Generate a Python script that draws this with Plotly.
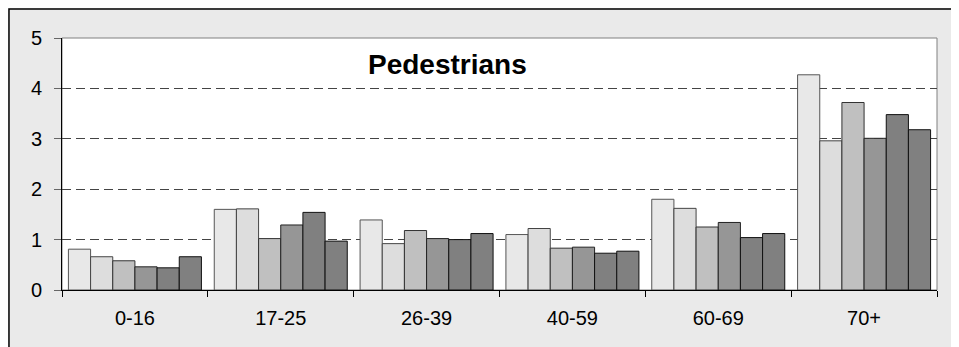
import plotly.graph_objects as go

categories = ['0-16', '17-25', '26-39', '40-59', '60-69', '70+']
series_1 = [0.81, 1.60, 1.39, 1.10, 1.80, 4.27]
series_2 = [0.66, 1.61, 0.92, 1.22, 1.62, 2.96]
series_3 = [0.58, 1.02, 1.18, 0.83, 1.25, 3.72]
series_4 = [0.46, 1.29, 1.02, 0.85, 1.34, 3.01]
series_5 = [0.44, 1.54, 1.00, 0.73, 1.04, 3.48]
series_6 = [0.66, 0.97, 1.12, 0.77, 1.12, 3.18]
y_ticks = [0, 1, 2, 3, 4, 5]

all_series = [series_1, series_2, series_3, series_4, series_5, series_6]
fills = ['#E8E8E8', '#DDDDDD', '#C0C0C0', '#969696', '#808080', '#808080']
edges = ['#555555', '#444444', '#333333', '#222222', '#111111', '#111111']

fig = go.Figure()
for vals, fc, ec in zip(all_series, fills, edges):
    fig.add_trace(go.Bar(
        x=categories, y=vals,
        marker=dict(color=fc, line=dict(color=ec, width=1)),
        showlegend=False,
    ))

# black frame round the grey chart area
fig.add_shape(type='rect', xref='paper', yref='paper',
              x0=-0.0606, x1=1.2, y0=-0.5, y1=1.115,
              line=dict(color='black', width=1.5), layer='above')
# thin grey border of the plot area
fig.add_shape(type='rect', xref='paper', yref='paper',
              x0=0, x1=1, y0=0, y1=1,
              line=dict(color='#808080', width=1), layer='below')

fig.add_annotation(text='<b>Pedestrians</b>', xref='paper', yref='paper',
                   x=0.440, y=0.893, xanchor='center', yanchor='middle',
                   showarrow=False, font=dict(size=28, color='black'))

fig.update_layout(
    width=959, height=347,
    margin=dict(l=54, r=30, t=30, b=65),
    paper_bgcolor='#EAEAEA',
    plot_bgcolor='white',
    barmode='group',
    bargap=0.088,
    bargroupgap=0,
    font=dict(family='Liberation Sans, Arial', size=20, color='black'),
)
fig.update_xaxes(
    showline=True, linecolor='black', linewidth=1,
    ticks='outside', tickson='boundaries', ticklen=6, tickcolor='black',
    ticklabelstandoff=10,
    showgrid=False,
)
fig.update_yaxes(
    range=[0, 5], tickvals=y_ticks,
    showline=True, linecolor='black', linewidth=1,
    ticks='outside', ticklen=7, tickcolor='#666666',
    ticklabelstandoff=8,
    showgrid=True, gridcolor='#444444', griddash='9px,5px', gridwidth=1,
    zeroline=False,
)

fig.write_html('out.html')
